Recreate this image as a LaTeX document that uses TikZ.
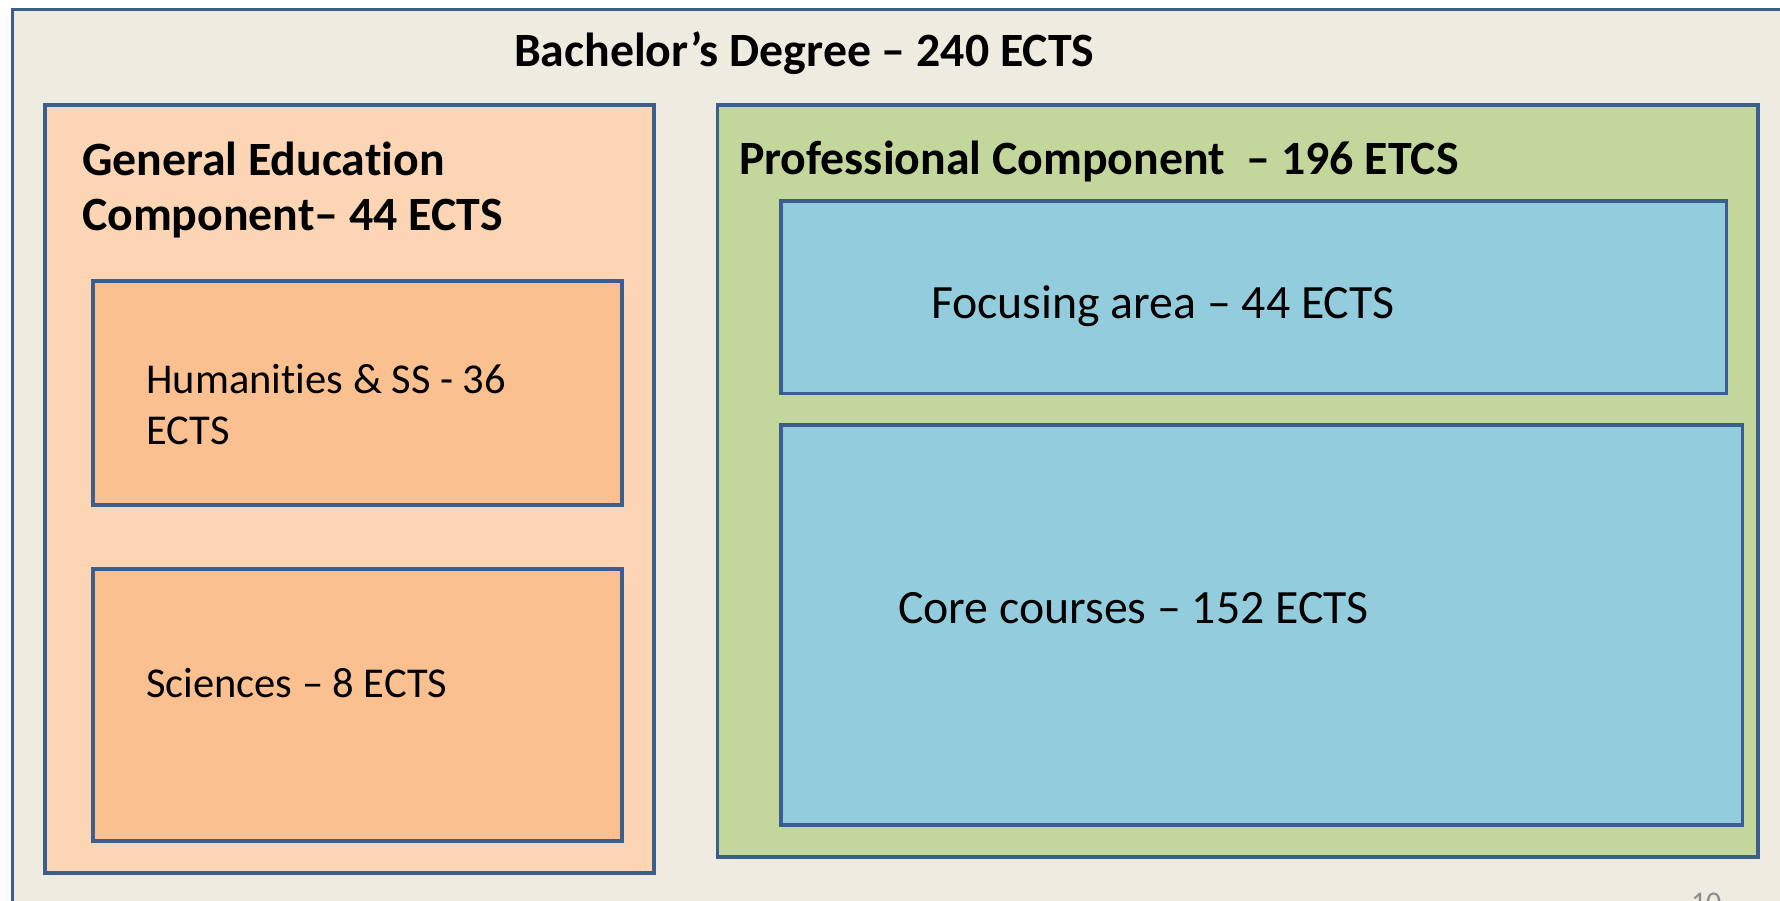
\documentclass[tikz,border=0pt]{standalone}
\usepackage{fontspec}
\setmainfont{Carlito}[Ligatures={TeX,NoCommon}]
\definecolor{bordblue}{HTML}{3B5E8C}
\definecolor{outerfill}{HTML}{EEECE1}
\definecolor{peach}{HTML}{FCD5B5}
\definecolor{orangefill}{HTML}{FAC090}
\definecolor{greenfill}{HTML}{C3D69B}
\definecolor{bluefill}{HTML}{93CDDD}
\definecolor{pagegray}{HTML}{8C8C8C}
\tikzset{
  boxst/.style={draw=bordblue, line width=3.8pt, line join=miter},
  lbl/.style={anchor=base west, inner sep=0pt, outer sep=0pt, text=black},
  boldlbl/.style={lbl, font={\fontsize{47.8}{58}\selectfont\bfseries}},
  biglbl/.style={lbl, font={\fontsize{47.8}{58}\selectfont}},
  smalllbl/.style={lbl, font={\fontsize{42.5}{51}\selectfont}},
}
\begin{document}
\begin{tikzpicture}[x=1pt,y=-1pt]
\useasboundingbox (0,0) rectangle (1780,901);
\clip (0,0) rectangle (1780,901);
\fill[white] (0,0) rectangle (1780,901);
% outer
\draw[boxst, fill=outerfill] (12.5,9.5) rectangle (1810,930);
% title
\node[boldlbl] (title) at (514,66.7) {Bachelor’s Degree – 240 ECTS};
% general education
\draw[boxst, fill=peach] (45,105) rectangle (654,873);
\node[boldlbl] (ge1) at (82,175.7) {General Education};
\node[boldlbl] (ge2) at (82,230.5) {Component– 44 ECTS};
\draw[boxst, fill=orangefill] (93,281) rectangle (622,505);
\node[smalllbl] (hum1) at (146.5,393.3) {Humanities \& SS - 36};
\node[smalllbl] (hum2) at (146.5,444.3) {ECTS};
\draw[boxst, fill=orangefill] (93,569) rectangle (622,841);
\node[smalllbl] (sci) at (146,697.7) {Sciences – 8 ECTS};
% professional
\draw[boxst, fill=greenfill] (717.5,105) rectangle (1758,857);
\node[boldlbl] (prof) at (739,175) {Professional Component \ – 196 ETCS};
\draw[boxst, fill=bluefill] (781,201) rectangle (1726.5,393.5);
\node[biglbl] (focus) at (931,318.3) {Focusing area – 44 ECTS};
\draw[boxst, fill=bluefill] (781,425) rectangle (1742.5,825);
\node[biglbl] (core) at (898,623.3) {Core courses – 152 ECTS};
% page number
\node[lbl, text=pagegray, font={\fontsize{30}{36}\selectfont}] (pnum) at (1691,912) {10};
\end{tikzpicture}
\end{document}
